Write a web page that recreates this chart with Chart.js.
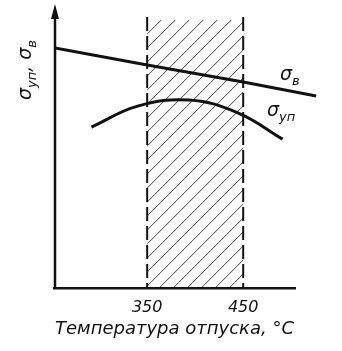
<!DOCTYPE html>
<html>
<head>
<meta charset="utf-8">
<script src="https://cdn.jsdelivr.net/npm/chart.js@4.4.1/dist/chart.umd.min.js"></script>
<style>
  html, body { margin: 0; padding: 0; background: #fff; }
  #wrap { width: 342px; height: 351px; }
</style>
</head>
<body>
<div id="wrap"><canvas id="c"></canvas></div>
<script>
// data (y in arbitrary units)
var tempTicks = [350, 450];
var sigmaBx = [254, 350, 450, 526];
var sigmaBy = [240, 223, 206, 192];
var sigmaUpx = [292, 340, 394, 445, 491];
var sigmaUpy = [161, 182, 188, 175, 149];
var hatchFrom = 350, hatchTo = 450, hatchTop = 268;

function pts(xs, ys) {
  return xs.map(function(x, i) { return { x: x, y: ys[i] }; });
}

var FONT = "'DejaVu Sans', sans-serif";

// draws sigma with a subscript, returns end x
function sigma(ctx, x, y, sub, size) {
  ctx.font = 'italic ' + size + 'px ' + FONT;
  ctx.fillText('σ', x, y);
  var w = ctx.measureText('σ').width;
  ctx.font = 'italic ' + Math.round(size * 0.7) + 'px ' + FONT;
  ctx.fillText(sub, x + w, y + size * 0.25);
  return x + w + ctx.measureText(sub).width;
}

var decor = {
  id: 'decor',
  beforeDatasetsDraw: function(chart) {
    var ctx = chart.ctx, xs = chart.scales.x, ys = chart.scales.y;
    var x1 = xs.getPixelForValue(hatchFrom), x2 = xs.getPixelForValue(hatchTo);
    var top = ys.getPixelForValue(hatchTop), bot = ys.getPixelForValue(0);
    ctx.save();
    // hatching
    ctx.beginPath();
    ctx.rect(x1, top, x2 - x1, bot - top);
    ctx.clip();
    ctx.strokeStyle = '#444';
    ctx.lineWidth = 1;
    for (var s = x1 - (bot - top); s < x2; s += 14) {
      ctx.beginPath();
      ctx.moveTo(s, bot);
      ctx.lineTo(s + (bot - top), top);
      ctx.stroke();
    }
    ctx.restore();
    // dashed borders
    ctx.save();
    ctx.strokeStyle = '#111';
    ctx.lineWidth = 2;
    ctx.setLineDash([14, 5]);
    [x1, x2].forEach(function(px) {
      ctx.beginPath();
      ctx.moveTo(px, top - 3);
      ctx.lineTo(px, bot);
      ctx.stroke();
    });
    ctx.restore();
    // axes
    ctx.save();
    ctx.strokeStyle = '#111';
    ctx.fillStyle = '#111';
    ctx.lineWidth = 2.5;
    var x0 = xs.getPixelForValue(xs.min);
    ctx.beginPath();
    ctx.moveTo(x0, bot);
    ctx.lineTo(x0, chart.chartArea.top + 8);
    ctx.moveTo(x0 - 2, bot);
    ctx.lineTo(xs.getPixelForValue(505), bot);
    ctx.stroke();
    ctx.beginPath();
    ctx.moveTo(x0, chart.chartArea.top - 1);
    ctx.lineTo(x0 - 4, chart.chartArea.top + 14);
    ctx.lineTo(x0 + 4, chart.chartArea.top + 14);
    ctx.closePath();
    ctx.fill();
    ctx.restore();
  },
  afterDatasetsDraw: function(chart) {
    var ctx = chart.ctx;
    ctx.save();
    ctx.fillStyle = '#111';
    ctx.textBaseline = 'alphabetic';
    ctx.textAlign = 'left';
    sigma(ctx, 280, 80, 'в', 19);
    sigma(ctx, 267, 116, 'уп', 19);
    // y axis title
    ctx.translate(31, 100);
    ctx.rotate(-Math.PI / 2);
    var e = sigma(ctx, 0, 0, 'уп', 19);
    ctx.font = 'italic 19px ' + FONT;
    ctx.fillText(',', e, 0);
    e += ctx.measureText(', ').width;
    sigma(ctx, e, 0, 'в', 19);
    ctx.restore();
  }
};

new Chart(document.getElementById('c').getContext('2d'), {
  type: 'line',
  data: {
    datasets: [{
      label: 'σв',
      data: pts(sigmaBx, sigmaBy),
      borderColor: '#111',
      borderWidth: 3,
      pointRadius: 0,
      tension: 0
    }, {
      label: 'σуп',
      data: pts(sigmaUpx, sigmaUpy),
      borderColor: '#111',
      borderWidth: 3,
      pointRadius: 0,
      tension: 0.4
    }]
  },
  options: {
    responsive: true,
    maintainAspectRatio: false,
    animation: false,
    layout: { padding: { left: 55, right: 22, top: 5, bottom: 11 } },
    plugins: { legend: { display: false }, tooltip: { enabled: false } },
    scales: {
      x: {
        type: 'linear',
        min: 254,
        max: 530,
        afterBuildTicks: function(axis) {
          axis.ticks = tempTicks.map(function(v) { return { value: v }; });
        },
        grid: { display: false, drawTicks: false },
        border: { display: false },
        ticks: {
          color: '#111',
          padding: 10,
          font: { family: FONT, size: 16, style: 'italic' }
        },
        title: {
          display: true,
          align: 'start',
          text: 'Температура отпуска, °C',
          color: '#111',
          padding: { top: -9, bottom: 0 },
          font: { family: FONT, size: 18, style: 'italic' }
        }
      },
      y: {
        type: 'linear',
        min: 0,
        max: 283,
        display: false
      }
    }
  },
  plugins: [decor]
});
</script>
</body>
</html>
